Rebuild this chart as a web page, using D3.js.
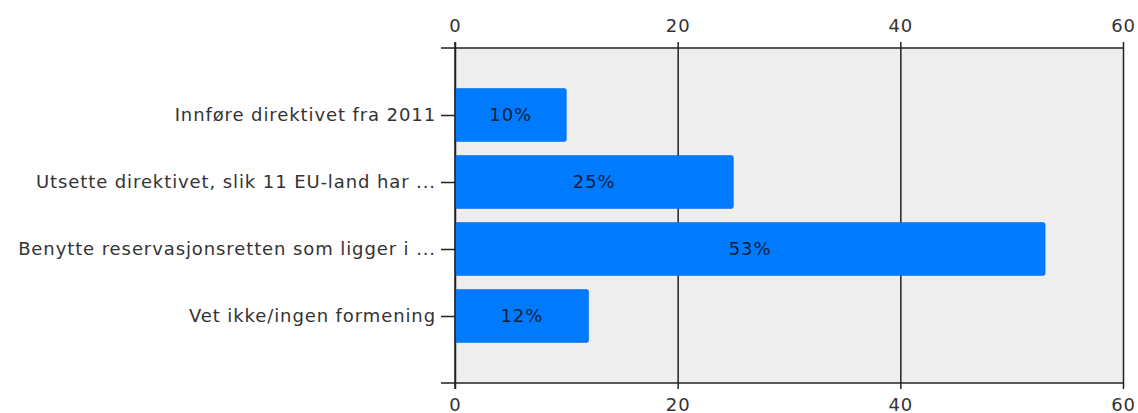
<!DOCTYPE html>
<html>
<head>
<meta charset="utf-8">
<script src="https://cdn.jsdelivr.net/npm/d3@7"></script>
<style>
  body { margin: 0; background: #fff; }
  text { font-family: "DejaVu Sans", Verdana, sans-serif; letter-spacing: 0.9px; }
</style>
</head>
<body>
<div id="chart"></div>
<script>
const WIDTH = 1138;
const HEIGHT = 413;
const PLOT = { TOP: 48, BOTTOM: 383, LEFT: 455, RIGHT: 1123 };
const FONT = 18;

// data
var categories = [
    "Innføre direktivet fra 2011",
    "Utsette direktivet, slik 11 EU-land har ...",
    "Benytte reservasjonsretten som ligger i ...",
    "Vet ikke/ingen formening"
];
var values = [10, 25, 53, 12];
var xTicks = [0, 20, 40, 60];

var svg = d3.select("div#chart").append("svg")
    .attr("width", WIDTH)
    .attr("height", HEIGHT);

var x = d3.scaleLinear([0, 60], [PLOT.LEFT, PLOT.RIGHT]);
var y = d3.scalePoint(categories, [PLOT.TOP, PLOT.BOTTOM]).padding(1);
var barH = y.step() * 0.79;

// background
svg.append("rect")
    .attr("x", x(0))
    .attr("y", PLOT.TOP)
    .attr("width", x(60) - x(0))
    .attr("height", PLOT.BOTTOM - PLOT.TOP)
    .attr("fill", "#eeeeee");

// gridlines
svg.append("g")
    .attr("class", "grid")
    .attr("transform", `translate(0,${PLOT.BOTTOM})`)
    .call(d3.axisBottom(x).tickValues(xTicks).tickSize(-(PLOT.BOTTOM - PLOT.TOP)).tickFormat(""))
    .call(g => g.select(".domain").remove())
    .call(g => g.selectAll("line").attr("stroke", "#222").attr("stroke-width", 1.5));

// bars
var bars = svg.append("g").attr("class", "bars");
bars.selectAll("rect")
    .data(values)
    .join("rect")
    .attr("x", x(0))
    .attr("y", (d, i) => y(categories[i]) - barH / 2)
    .attr("width", d => x(d) - x(0))
    .attr("height", barH)
    .attr("rx", 2)
    .attr("fill", "#007bff")
    .attr("stroke", "#0a6fe0")
    .attr("stroke-width", 0.6);

bars.selectAll("text")
    .data(values)
    .join("text")
    .attr("x", d => (x(d) + x(0)) / 2)
    .attr("y", (d, i) => y(categories[i]))
    .attr("dy", "0.35em")
    .attr("text-anchor", "middle")
    .attr("font-size", FONT)
    .attr("fill", "#102038")
    .text(d => d + "%");

// axes
function styleAxis(g) {
    g.selectAll("line").attr("stroke", "#222").attr("stroke-width", 1.5);
    g.selectAll("text").attr("font-size", FONT).attr("fill", "#333");
    g.select(".domain").remove();
}

svg.append("g")
    .attr("transform", `translate(0,${PLOT.TOP})`)
    .call(d3.axisTop(x).tickValues(xTicks).tickSize(6).tickPadding(10))
    .call(styleAxis);

svg.append("g")
    .attr("transform", `translate(0,${PLOT.BOTTOM})`)
    .call(d3.axisBottom(x).tickValues(xTicks).tickSize(6).tickPadding(9))
    .call(styleAxis);

svg.append("g")
    .attr("transform", `translate(${PLOT.LEFT},0)`)
    .call(d3.axisLeft(y).tickSize(14).tickPadding(5))
    .call(styleAxis);

// frame lines
svg.append("line")
    .attr("x1", x(0) - 14).attr("x2", x(60))
    .attr("y1", PLOT.TOP).attr("y2", PLOT.TOP)
    .attr("stroke", "#222").attr("stroke-width", 1.5);
svg.append("line")
    .attr("x1", x(0) - 14).attr("x2", x(60))
    .attr("y1", PLOT.BOTTOM).attr("y2", PLOT.BOTTOM)
    .attr("stroke", "#222").attr("stroke-width", 1.5);
svg.append("line")
    .attr("x1", x(0)).attr("x2", x(0))
    .attr("y1", PLOT.TOP - 6).attr("y2", PLOT.BOTTOM + 6)
    .attr("stroke", "#222").attr("stroke-width", 1.5);
</script>
</body>
</html>
